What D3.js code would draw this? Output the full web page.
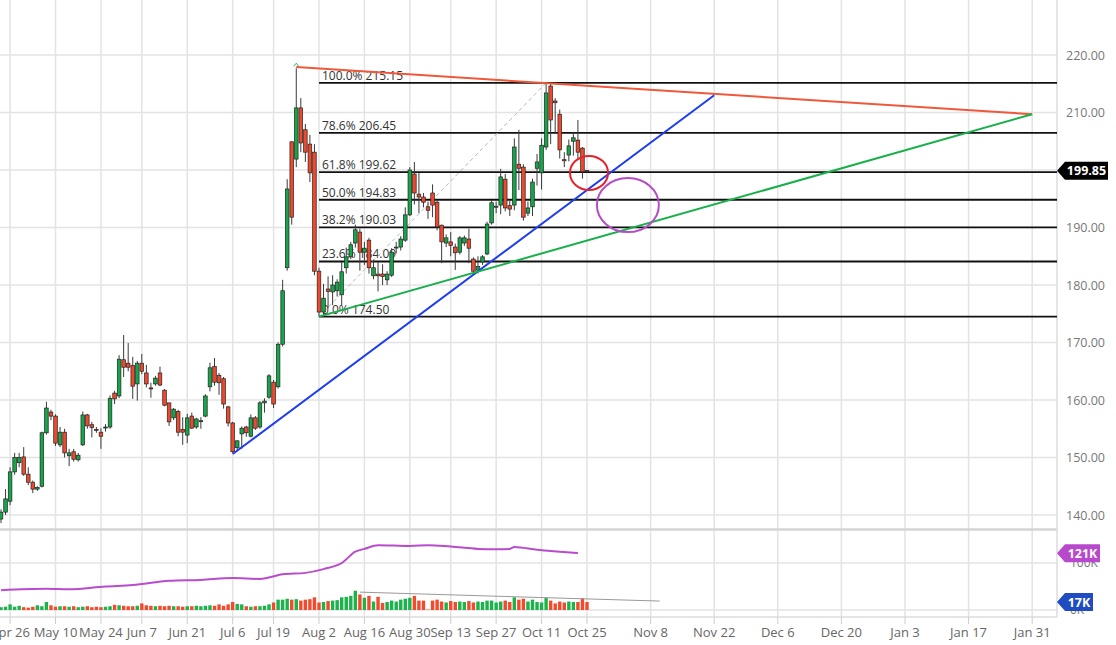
<!DOCTYPE html>
<html><head><meta charset="utf-8">
<script src="https://cdn.jsdelivr.net/npm/d3@7"></script>
<style>body{margin:0;background:#fff}svg{display:block}text{font-family:"Open Sans","Noto Sans",sans-serif}</style>
</head><body><svg id="c" width="1116" height="645"></svg>
<script>
// ---------- DATA ----------
const dates = ("2021-04-22 2021-04-23 2021-04-26 2021-04-27 2021-04-28 2021-04-29 2021-04-30 " +
"2021-05-03 2021-05-04 2021-05-05 2021-05-06 2021-05-07 2021-05-10 2021-05-11 2021-05-12 2021-05-13 2021-05-14 2021-05-17 2021-05-18 2021-05-19 2021-05-20 2021-05-21 2021-05-24 2021-05-25 2021-05-26 2021-05-27 2021-05-28 " +
"2021-06-01 2021-06-02 2021-06-03 2021-06-04 2021-06-07 2021-06-08 2021-06-09 2021-06-10 2021-06-11 2021-06-14 2021-06-15 2021-06-16 2021-06-17 2021-06-18 2021-06-21 2021-06-22 2021-06-23 2021-06-24 2021-06-25 2021-06-28 2021-06-29 2021-06-30 " +
"2021-07-01 2021-07-02 2021-07-06 2021-07-07 2021-07-08 2021-07-09 2021-07-12 2021-07-13 2021-07-14 2021-07-15 2021-07-16 2021-07-19 2021-07-20 2021-07-21 2021-07-22 2021-07-23 2021-07-26 2021-07-27 2021-07-28 2021-07-29 2021-07-30 " +
"2021-08-02 2021-08-03 2021-08-04 2021-08-05 2021-08-06 2021-08-09 2021-08-10 2021-08-11 2021-08-12 2021-08-13 2021-08-16 2021-08-17 2021-08-18 2021-08-19 2021-08-20 2021-08-23 2021-08-24 2021-08-25 2021-08-26 2021-08-27 2021-08-30 2021-08-31 " +
"2021-09-01 2021-09-02 2021-09-03 2021-09-07 2021-09-08 2021-09-09 2021-09-10 2021-09-13 2021-09-14 2021-09-15 2021-09-16 2021-09-17 2021-09-20 2021-09-21 2021-09-22 2021-09-23 2021-09-24 2021-09-27 2021-09-28 2021-09-29 2021-09-30 " +
"2021-10-01 2021-10-04 2021-10-05 2021-10-06 2021-10-07 2021-10-08 2021-10-11 2021-10-12 2021-10-13 2021-10-14 2021-10-15 2021-10-18 2021-10-19 2021-10-20 2021-10-21 2021-10-22 2021-10-25").split(" ");

const open  = [139.3,140.5,142.4,147.5,149.1,150.1,147.1,145.7,144.5,145,154.3,157.9,157.2,152.2,154.4,150.3,151,149.6,152.2,157.4,155.7,154.9,154.4,155.3,155.3,161.2,160.7,167,166.4,166,162.8,166.4,164.7,162.1,162.8,164.7,161.7,159.5,156.9,158,154.9,153.9,157.2,155.3,156.3,157.2,162.3,165.8,164.3,163.7,158.8,156,151.7,154.1,155.3,153.7,156.9,155.3,159.5,160.5,163.1,162.3,169.7,183,204.9,201.9,210.8,207,204.5,203.1,182.4,175.3,179.3,178.8,179,178.3,183,184.9,187.3,189.2,185.7,187.8,181.6,181.9,181.9,180.9,181.7,186.5,186.6,187.8,192.2,199.3,195.8,195.3,193.6,196,194.4,190.4,187.3,187.5,186.6,185.7,187.3,188,184.5,182.6,184,185.4,190.8,193.6,193.9,198.4,193.8,193.9,201,200.5,192.5,193.6,200.3,199.5,204,214.6,212,209.7,201.8,202.6,205,205.2,203.8,199.9];
const high  = [141,144.5,148.3,150.8,150.8,151.8,148.3,146,145,154.5,159.7,158.3,157.5,155.3,155,151.5,151.5,150.8,158,157.6,156.2,155.3,155.1,155.8,160.8,161.6,167.8,171.3,169.9,167.5,166.8,168,166.1,163,164.2,165.8,161.9,159.5,158.6,158.3,157,157.6,157.8,156.9,157,161,166.5,167.3,164.7,164,159,156.2,153,155.4,155.5,157.5,157.2,159.8,160.3,164.5,163.5,170,180.9,198.4,205,217.7,212.5,208,206.1,204.5,183,180.2,181.5,181.7,181,184,186.5,187.5,190.5,189.8,187.5,188.2,184.4,184,183.6,182.4,186.4,187.5,188.5,193.5,200.5,201.4,199.5,196,194.5,197.5,194.8,190.5,188.8,189.2,187.2,188.5,188.6,189.8,184.8,185,185.2,191,194.8,194.5,200.2,199.3,194.6,205.5,207,201,194.5,198.5,202.8,205.5,215,215.15,212.5,210.5,203.1,205.3,206.5,208.7,204,200];
const low   = [138.6,140,141.7,147,148.3,146.8,145.2,143.8,144.2,144.8,154,156.5,152,151.8,150,148.5,149.3,149.3,152,155,153.5,154.3,151.5,154.5,155,159.3,160.3,164,165,160.2,159.9,164.5,162.2,160.4,162.5,162.4,158.9,155.5,156.5,153.7,152.2,152.5,155,155,155,157,161.5,162.5,160.9,158.5,155.4,150.8,151.2,151.5,153.6,153.5,154.8,155,157.8,160.2,158.6,162,169.3,182.5,190.5,200.5,203.1,201.4,197.9,181.7,174.5,174.5,176,176.5,178,176.5,182,184.5,186.5,182.5,183.5,182,181,178.9,180,180,181.4,185.5,186,187.5,192,194,192.5,193.5,191.5,191.8,189.5,183.8,186.6,185,182.6,185.3,186.8,183.8,181.9,182,183.5,185.2,190.5,192.5,192.3,192.8,192,193,196.5,191.2,192,192,197.3,196.6,203.5,204.5,206.5,202,200.5,201.5,202.5,201.8,198.5,199.6];
const close = [140.5,142.8,147.5,150,150,147.1,145.7,144.5,144.8,154.3,158.6,157.2,152.5,154.4,150.8,150.8,149.7,150.4,157.4,155.5,155.2,154.8,153.7,155.3,160.3,160.2,167.1,165.7,165.7,162.4,166.4,165,162.8,162,163.8,162.6,159.1,156.2,158.4,154.4,154.4,156.9,155.1,156.7,156.4,160.7,165.6,163.1,163,159.3,156,151,152.9,155.1,154.3,156.9,155.1,159.5,159.8,164.2,159.3,169.7,179,196.7,191.8,210.8,204.7,203.1,199.5,182.4,175.3,177.7,178.9,180,180.5,182.3,184.9,187,189.6,185.7,186.4,183,183,181.6,181.5,181.9,185.7,186.6,188,192.2,200,196,195.3,194.4,193,193.9,190.1,187.5,188.2,186.9,185.6,188.2,188.2,186.4,182.4,183.2,184.9,190.6,194.3,193.7,198.8,193.4,193.2,204,200.3,191.8,193.4,197.9,201.4,204.3,213.4,208.7,211.7,203.5,201.6,204.2,205.6,203.1,199.7,199.85];
const volumeK = [6,7,12,7,9,6,5,7,10,8, 17,10,7,8,8,7,8,6,7,8, 6,7,6,7,8,11,10,9,8,8, 9,14,10,9,8,9,8,9,8,8, 7,8,8,9,8,9,10,9,12,9, 12,17,13,12,8,7,8,8,9,12, 16,22,22,24,22,23,20,22,23,27, 16,17,19,20,21,27,28,30,41,33, 26,30,18,28,15,17,20,18,22,24, 26,30,20,20,1,20,22,18,16,19, 17,18,17,19,16,18,17,20,20,16, 18,20,17,27,22,24,18,22,17,16, 26,20,14,18,16,18,17,17,25,17];
// volume moving average, read at sample dates
const volMA = [["2021-04-22",42],["2021-05-06",45],["2021-05-13",44],["2021-05-25",50],["2021-06-03",53],["2021-06-15",62],["2021-06-24",64],["2021-07-06",68],["2021-07-14",66],["2021-07-21",76],["2021-07-28",79],["2021-08-03",87],["2021-08-09",100],["2021-08-12",124],["2021-08-16",130],["2021-08-19",138],["2021-08-30",136],["2021-09-03",138],["2021-09-13",135],["2021-09-21",130],["2021-09-27",129],["2021-09-30",130],["2021-10-01",134],["2021-10-08",128],["2021-10-15",124],["2021-10-21",121]];
const priceTicks = [140,150,160,170,180,190,200,210,220];
const dateTicks = [["2021-04-26","Apr 26"],["2021-05-10","May 10"],["2021-05-24","May 24"],["2021-06-07","Jun 7"],["2021-06-21","Jun 21"],["2021-07-06","Jul 6"],["2021-07-19","Jul 19"],["2021-08-02","Aug 2"],["2021-08-16","Aug 16"],["2021-08-30","Aug 30"],["2021-09-13","Sep 13"],["2021-09-27","Sep 27"],["2021-10-11","Oct 11"],["2021-10-25","Oct 25"],["2021-11-08","Nov 8"],["2021-11-22","Nov 22"],["2021-12-06","Dec 6"],["2021-12-20","Dec 20"],["2022-01-03","Jan 3"],["2022-01-17","Jan 17"],["2022-01-31","Jan 31"]];
const fibPct = ["0.0%","23.6%","38.2%","50.0%","61.8%","78.6%","100.0%"];
const fibVal = [174.50,184.09,190.03,194.83,199.62,206.45,215.15];
const fibStart = "2021-08-02";
const fibDiag = [["2021-08-02",174.50],["2021-10-12",215.15]];
const trendRed   = [["2021-07-26",217.9],["2022-01-31",209.7]];
const trendBlue  = [["2021-07-06",150.6],["2021-11-22",213.0]];
const trendGreen = [["2021-08-02",174.5],["2022-01-31",209.7]];
const volTrend   = [["2021-08-13",38],["2021-11-10",19]];
const redCircle    = ["2021-10-25",199.5];
const purpleCircle = ["2021-11-03",193.9];
const lastPrice = 199.85, lastVolMA = "121K", lastVol = "17K";

// ---------- SCALES ----------
const W = 1116, H = 645, plotR = 1057;
const lastIdx = dates.length - 1;
const lastDate = new Date(dates[lastIdx] + "T00:00:00Z");
function slot(ds){
  const i = dates.indexOf(ds);
  if (i >= 0) return i;
  return lastIdx + Math.round((new Date(ds + "T00:00:00Z") - lastDate) / 864e5);
}
const x = d3.scaleLinear().domain([0, lastIdx]).range([1, 587]);
const y = d3.scaleLinear().domain([140, 220]).range([515, 55]);
const yv = d3.scaleLinear().domain([0, 100]).range([610, 563]);

const svg = d3.select("#c");
const defs = svg.append("defs");
defs.append("clipPath").attr("id","cp").append("rect").attr("x",0).attr("y",0).attr("width",plotR).attr("height",528);
defs.append("clipPath").attr("id","cv").append("rect").attr("x",0).attr("y",531).attr("width",plotR).attr("height",86);

// grid
const g = svg.append("g");
g.selectAll(".hg").data(priceTicks).join("line")
  .attr("x1",0).attr("x2",plotR).attr("y1",d=>y(d)).attr("y2",d=>y(d))
  .attr("stroke","#e3e3e3").attr("stroke-width",1.5);
g.selectAll(".vg").data(dateTicks).join("line")
  .attr("x1",d=>x(slot(d[0]))).attr("x2",d=>x(slot(d[0]))).attr("y1",0).attr("y2",617)
  .attr("stroke","#e3e3e3").attr("stroke-width",1.5);
[100,0].forEach(v=>g.append("line").attr("x1",0).attr("x2",plotR).attr("y1",yv(v)).attr("y2",yv(v)).attr("stroke","#e3e3e3").attr("stroke-width",1.5));
g.append("line").attr("x1",0).attr("x2",plotR).attr("y1",529.5).attr("y2",529.5).attr("stroke","#d4d4d4").attr("stroke-width",2.5);
g.append("line").attr("x1",0).attr("x2",plotR).attr("y1",617).attr("y2",617).attr("stroke","#dcdcdc").attr("stroke-width",1.5);
g.append("line").attr("x1",plotR).attr("x2",plotR).attr("y1",0).attr("y2",617).attr("stroke","#dcdcdc").attr("stroke-width",1.5);

// x ticks & labels
svg.selectAll(".xt").data(dateTicks).join("line")
  .attr("x1",d=>x(slot(d[0]))).attr("x2",d=>x(slot(d[0]))).attr("y1",617).attr("y2",624)
  .attr("stroke","#ccc").attr("stroke-width",1);
svg.selectAll(".xl").data(dateTicks).join("text")
  .attr("x",d=>x(slot(d[0]))).attr("y",637).attr("text-anchor","middle")
  .attr("font-size",13).attr("fill","#666").text(d=>d[1]);

// price axis labels
svg.selectAll(".pl").data(priceTicks).join("text")
  .attr("x",1066).attr("y",d=>y(d)+4.5).attr("font-size",12.5).attr("fill","#777")
  .text(d=>d.toFixed(2));
svg.append("text").attr("x",1070).attr("y",yv(100)+4).attr("font-size",12).attr("fill","#777").text("100K");
svg.append("text").attr("x",1070).attr("y",yv(0)+4).attr("font-size",12).attr("fill","#777").text("0K");

// price panel drawing layer
const pp = svg.append("g").attr("clip-path","url(#cp)");

// fib lines
const fx0 = x(slot(fibStart));
pp.selectAll(".fl").data(fibVal).join("line")
  .attr("x1",fx0).attr("x2",plotR).attr("y1",d=>y(d)).attr("y2",d=>y(d))
  .attr("stroke","#111").attr("stroke-width",1.8);
pp.selectAll(".ft").data(fibVal).join("text")
  .attr("x",fx0+3).attr("y",d=>y(d)-3).attr("font-size",12).attr("fill","#333")
  .text((d,i)=>fibPct[i]+" "+d.toFixed(2));
pp.append("line")
  .attr("x1",x(slot(fibDiag[0][0]))).attr("y1",y(fibDiag[0][1]))
  .attr("x2",x(slot(fibDiag[1][0]))).attr("y2",y(fibDiag[1][1]))
  .attr("stroke","#b8b8b8").attr("stroke-width",1).attr("stroke-dasharray","4,3");

// candles
const bw = 3.6;
const cg = pp.append("g");
dates.forEach((d,i)=>{
  const up = close[i] >= open[i];
  const cx = x(i);
  cg.append("line").attr("x1",cx).attr("x2",cx).attr("y1",y(high[i])).attr("y2",y(low[i]))
    .attr("stroke","#3a3a3a").attr("stroke-width",1);
  const top = y(Math.max(open[i],close[i])), bot = y(Math.min(open[i],close[i]));
  cg.append("rect").attr("x",cx-bw/2).attr("y",top).attr("width",bw).attr("height",Math.max(1,bot-top))
    .attr("fill",up?"#16a64a":"#f0482c").attr("stroke","#222").attr("stroke-width",0.7);
});

// peak marker
const pk = high.indexOf(d3.max(high));
pp.append("path").attr("d",`M${x(pk)-2.5},${y(high[pk])-2} L${x(pk)},${y(high[pk])-5} L${x(pk)+2.5},${y(high[pk])-2}`)
  .attr("fill","none").attr("stroke","#2db35a").attr("stroke-width",1);

// trendlines
function tl(pts,color){
  pp.append("line").attr("x1",x(slot(pts[0][0]))).attr("y1",y(pts[0][1]))
    .attr("x2",x(slot(pts[1][0]))).attr("y2",y(pts[1][1]))
    .attr("stroke",color).attr("stroke-width",2);
}
tl(trendRed,"#f0583a");
tl(trendBlue,"#1e3cf0");
tl(trendGreen,"#18b04a");

// ellipses
pp.append("ellipse").attr("cx",x(slot(redCircle[0]))+2).attr("cy",y(redCircle[1])).attr("rx",19).attr("ry",17)
  .attr("fill","none").attr("stroke","#e8202a").attr("stroke-width",2);
pp.append("ellipse").attr("cx",x(slot(purpleCircle[0]))).attr("cy",y(purpleCircle[1])).attr("rx",31).attr("ry",27)
  .attr("fill","none").attr("stroke","#b64cc6").attr("stroke-width",2);

// volume panel
const vp = svg.append("g").attr("clip-path","url(#cv)");
dates.forEach((d,i)=>{
  const up = close[i] >= open[i];
  vp.append("rect").attr("x",x(i)-1.7).attr("y",yv(volumeK[i])).attr("width",3.4).attr("height",yv(0)-yv(volumeK[i]))
    .attr("fill",up?"#1db34c":"#f24a2c");
});
vp.append("path").datum(volMA)
  .attr("d",d3.line().x(d=>x(slot(d[0]))).y(d=>yv(d[1])).curve(d3.curveMonotoneX))
  .attr("fill","none").attr("stroke","#b84ccc").attr("stroke-width",2);
vp.append("line").attr("x1",x(slot(volTrend[0][0]))).attr("y1",yv(volTrend[0][1]))
  .attr("x2",x(slot(volTrend[1][0]))).attr("y2",yv(volTrend[1][1]))
  .attr("stroke","#999").attr("stroke-width",1);

// tags
function tag(yc,txt,fill,w){
  const x0 = 1057, h = 18;
  svg.append("path").attr("d",`M${x0},${yc} L${x0+8},${yc-h/2} L${x0+w},${yc-h/2} L${x0+w},${yc+h/2} L${x0+8},${yc+h/2} Z`).attr("fill",fill);
  svg.append("text").attr("x",x0+8+(w-8)/2).attr("y",yc+4.5).attr("text-anchor","middle")
    .attr("font-size",12.5).attr("font-weight","bold").attr("fill","#fff").text(txt);
}
tag(y(lastPrice),lastPrice.toFixed(2),"#000",51);
tag(yv(121),lastVolMA,"#b848cc",43);
tag(yv(17),lastVol,"#1f4cc0",36);
</script></body></html>
